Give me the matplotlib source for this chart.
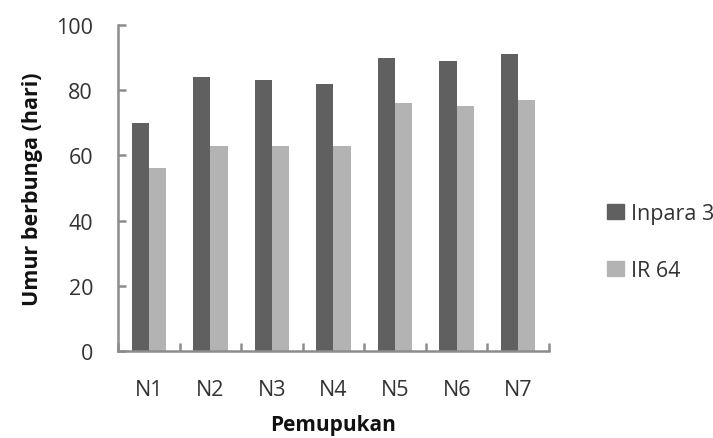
import matplotlib
matplotlib.use("Agg")
import matplotlib.pyplot as plt
import numpy as np
from matplotlib.patches import Patch

categories = ["N1", "N2", "N3", "N4", "N5", "N6", "N7"]
inpara3 = [70, 84, 83, 82, 90, 89, 91]
ir64 = [56, 63, 63, 63, 76, 75, 77]
series_names = ["Inpara 3", "IR 64"]
yticks = [0, 20, 40, 60, 80, 100]

plt.rcParams['font.family'] = ['Open Sans', 'DejaVu Sans']
text_color = "#333333"
spine_color = "#8c8c8c"
c_dark = "#606060"
c_light = "#b3b3b3"

fig = plt.figure(figsize=(7.13, 4.39), dpi=100)
ax = fig.add_axes([118/713, 1-352/439, (549-118)/713, (352-26)/439])

x = np.arange(len(categories))
w = 0.28
ax.bar(x - w/2, inpara3, width=w, color=c_dark, label=series_names[0])
ax.bar(x + w/2, ir64, width=w, color=c_light, label=series_names[1])

ax.set_xlim(-0.5, len(categories) - 0.5)
ax.set_ylim(0, 100)
ax.set_yticks(yticks)
ax.set_xticks(x)
ax.set_xticklabels(categories)
ax.set_xticks(np.arange(-0.5, len(categories)), minor=True)

for s in ["top", "right"]:
    ax.spines[s].set_visible(False)
for s in ["left", "bottom"]:
    ax.spines[s].set_color(spine_color)
    ax.spines[s].set_linewidth(1.8)

ax.tick_params(axis='y', direction='in', length=6, width=1.8, color=spine_color,
               labelsize=15.5, labelcolor=text_color, pad=18)
ax.tick_params(axis='x', which='major', length=0, labelsize=15.5, labelcolor=text_color, pad=20)
ax.tick_params(axis='x', which='minor', direction='in', length=6, width=1.8, color=spine_color)

ax.set_ylabel("Umur berbunga (hari)", fontsize=15.5, fontweight='bold', color="#111111", labelpad=9)
ax.set_xlabel("Pemupukan", fontsize=15, fontweight='bold', color="#111111", labelpad=10)

handles = [Patch(color=c_dark), Patch(color=c_light)]
leg = fig.legend(handles, series_names, loc='center left', bbox_to_anchor=(588/713, 1-243/439),
                 frameon=False, fontsize=15.5, labelspacing=1.7, handlelength=0.75, handleheight=0.7,
                 handletextpad=0.35)
for t in leg.get_texts():
    t.set_color(text_color)

fig.savefig("out.png", dpi=100)
